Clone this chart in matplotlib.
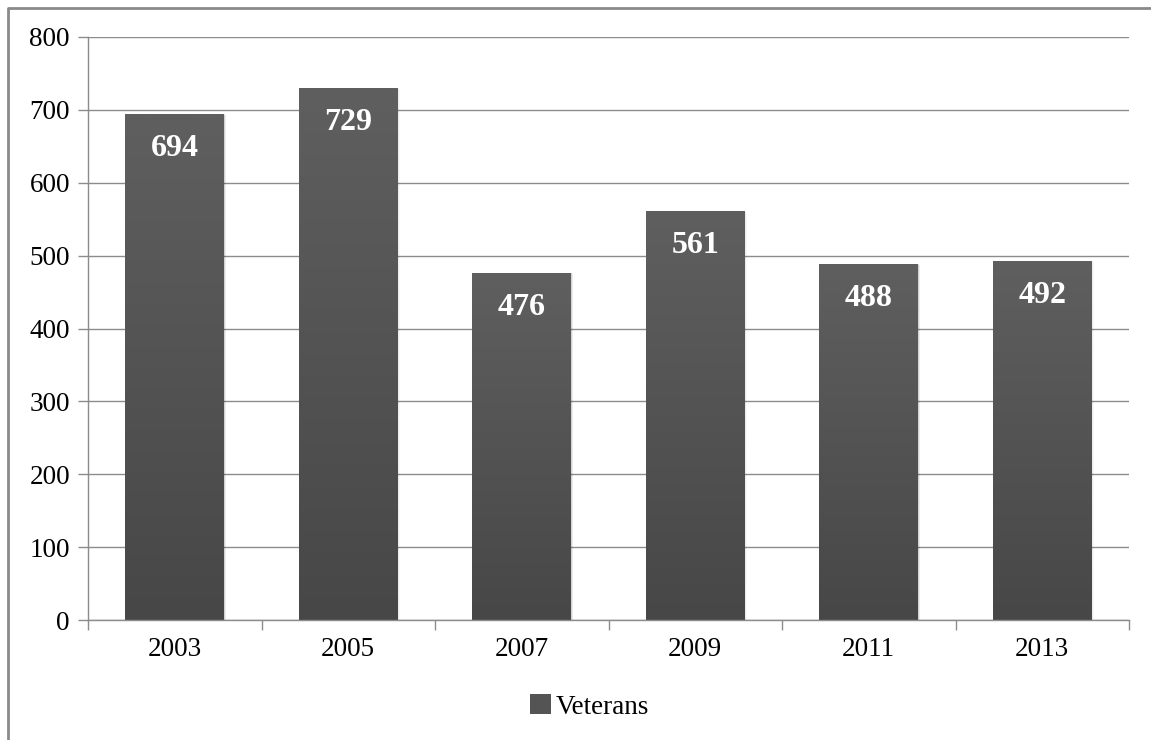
import numpy as np
import matplotlib
matplotlib.use("Agg")
import matplotlib.pyplot as plt
from matplotlib.colors import LinearSegmentedColormap
from matplotlib.patches import Rectangle
from matplotlib.lines import Line2D

years = ["2003", "2005", "2007", "2009", "2011", "2013"]
veterans = [694, 729, 476, 561, 488, 492]

plt.rcParams["font.family"] = ["Liberation Serif", "DejaVu Serif"]

W, H = 1151, 740
fig = plt.figure(figsize=(W / 100, H / 100), dpi=100)
ax = fig.add_axes([88 / W, 1 - 620 / H, (1129 - 88) / W, (620 - 37) / H])

grid_col = "#8c8c8c"
bar_w = 0.57
cmap = LinearSegmentedColormap.from_list("bar", ["#474747", "#5f5f5f"])
grad = np.linspace(0, 1, 256).reshape(-1, 1)

x = np.arange(len(years))
for xi, v in zip(x, veterans):
    # soft shadow to the right of each bar
    for k, a in enumerate([0.10, 0.05, 0.025]):
        ax.add_patch(Rectangle((xi - bar_w / 2 + 0.004 * (k + 1), 0), bar_w, v - 0.5 * k,
                               color="black", alpha=a, lw=0, zorder=2))
    ax.imshow(grad, cmap=cmap, origin="lower", aspect="auto",
              extent=(xi - bar_w / 2, xi + bar_w / 2, 0, v), zorder=3)
    ax.text(xi, v - 34 * 800 / 583, str(v), ha="center", va="center",
            color="white", fontsize=23, fontweight="bold", zorder=4)

ax.set_xlim(-0.5, len(years) - 0.5)
ax.set_ylim(0, 800)
ax.set_yticks(range(0, 801, 100))
ax.set_xticks(x)
ax.set_xticklabels(years)
ax.set_xticks(np.arange(-0.5, len(years), 1), minor=True)
ax.tick_params(axis="x", which="major", length=0, pad=12, labelsize=19.5)
ax.tick_params(axis="x", which="minor", length=7, color=grid_col, width=1)
ax.tick_params(axis="y", length=7, color=grid_col, width=1, pad=6, labelsize=19.5)

ax.grid(axis="y", color=grid_col, lw=1, zorder=1)
ax.set_axisbelow(True)
for s in ["top", "right"]:
    ax.spines[s].set_visible(False)
for s in ["left", "bottom"]:
    ax.spines[s].set_color(grid_col)
    ax.spines[s].set_linewidth(1)
    ax.spines[s].set_zorder(5)

handle = Rectangle((0, 0), 1, 1, facecolor="#545454", edgecolor="none")
fig.legend([handle], ["Veterans"], loc="center", bbox_to_anchor=(590 / W, 1 - 707 / H),
           frameon=False, fontsize=19.5, handlelength=0.75, handleheight=0.75,
           handletextpad=0.2)

# outer frame, top and left edges
fig.add_artist(Line2D([8 / W, 8 / W, 1], [0, 1 - 8 / H, 1 - 8 / H],
                      transform=fig.transFigure, color="#8a8a8a", lw=2))

fig.savefig("out.png", dpi=100)
